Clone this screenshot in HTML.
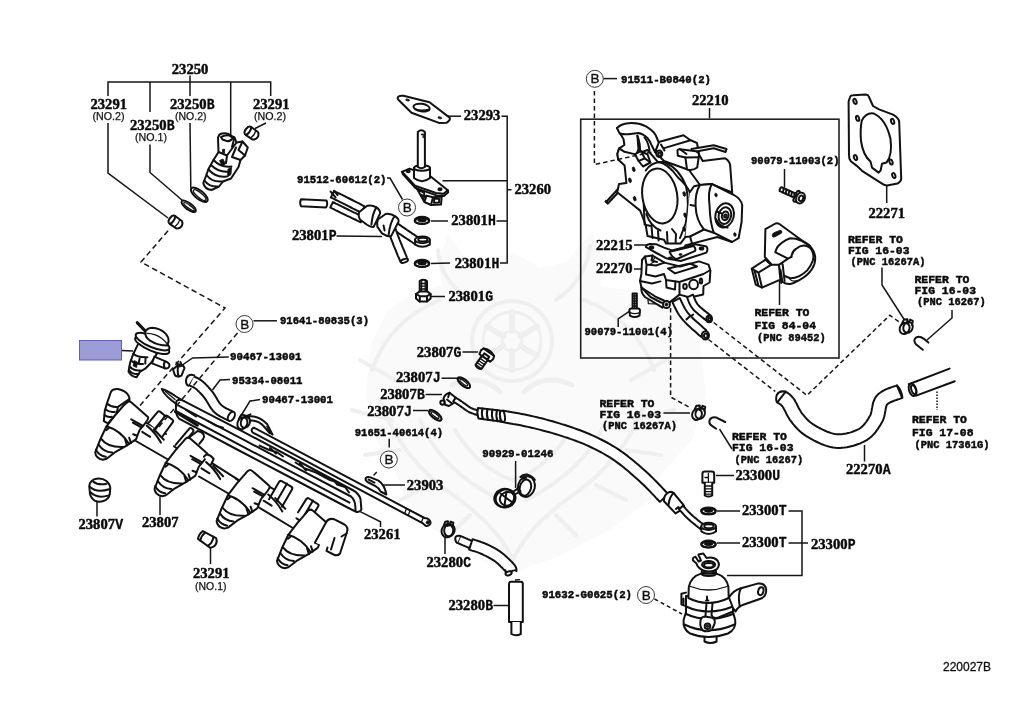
<!DOCTYPE html>
<html><head><meta charset="utf-8"><title>220027B</title>
<style>
html,body{margin:0;padding:0;background:#fff;}
svg{display:block;}
.n{font-family:"Liberation Serif",serif;font-weight:bold;font-size:13.9px;fill:#0a0a0a;stroke:#0a0a0a;stroke-width:0.45;}
.sf{font-family:"Liberation Mono",monospace;font-weight:bold;font-size:14.2px;fill:#0a0a0a;stroke:#0a0a0a;stroke-width:0.3;}
.m{font-family:"Liberation Mono",monospace;font-weight:bold;font-size:11.4px;fill:#0a0a0a;stroke:#0a0a0a;stroke-width:0.5;}
.r{font-family:"Liberation Mono",monospace;font-weight:bold;font-size:10.2px;fill:#0a0a0a;stroke:#0a0a0a;stroke-width:0.45;}
.s{font-family:"Liberation Sans",sans-serif;font-size:11px;fill:#111;stroke:#111;stroke-width:0.25;}
.s2{font-family:"Liberation Sans",sans-serif;font-size:12px;fill:#111;stroke:#111;stroke-width:0.3;}
.bb{font-family:"Liberation Sans",sans-serif;font-size:13.5px;fill:#111;stroke:#111;stroke-width:0.35;}
.cb{fill:#fff;stroke:#222;stroke-width:0.9;}
.l{fill:none;stroke:#151515;stroke-width:1.5;}
.box{fill:none;stroke:#222;stroke-width:1.6;}
.p{fill:none;stroke:#111;stroke-width:2.0;stroke-linejoin:round;stroke-linecap:round;}
.pf{fill:#fff;stroke:#111;stroke-width:2.0;stroke-linejoin:round;stroke-linecap:round;}
.pt{fill:none;stroke:#111;stroke-width:1.3;stroke-linejoin:round;stroke-linecap:round;}
.pk{fill:#111;stroke:#111;stroke-width:0.8;stroke-linejoin:round;}
.wm{fill:none;stroke:#f5f5f5;stroke-width:4;stroke-linecap:round;stroke-linejoin:round;}
</style></head><body>
<svg style="will-change:transform" width="1024" height="707" viewBox="0 0 1024 707">
<rect width="1024" height="707" fill="#fff"/>
<!-- watermark.svg -->
<g>
<path d="M513 252 L540 268 L566 262 L592 232 L604 262 L600 286 L640 292 L676 310 L700 345 L706 395 L692 440 L660 476 L650 500 L610 530 L560 556 L513 572 L474 556 L435 530 L405 500 L395 470 L376 440 L366 395 L371 345 L388 310 L415 292 L442 286 L438 262 L448 236 L470 262 L492 268 Z" fill="#fafafa"/>
<g fill="none" stroke="#efefef" stroke-linecap="round" stroke-linejoin="round">
<circle cx="512" cy="341" r="40" stroke-width="4"/>
<circle cx="512" cy="341" r="29" stroke-width="3"/>
<circle cx="512" cy="341" r="10" stroke-width="3"/>
<path d="M512 312 L512 331 M512 351 L512 370 M487 326.5 L503.4 336 M520.6 346 L537 355.5 M487 355.5 L503.4 346 M520.6 336 L537 326.5" stroke-width="6"/>
<path d="M470 300 Q440 280 438 250 M556 300 Q586 280 590 246 M440 300 Q390 320 372 370 M584 300 Q636 320 654 370" stroke-width="4"/>
<path d="M452 385 Q480 372 500 392 M572 385 Q544 372 524 392" stroke-width="5"/>
<path d="M380 400 Q400 460 460 500 Q500 530 513 560 Q526 530 566 500 Q626 460 646 400" stroke-width="4"/>
<path d="M420 420 Q440 470 500 500 M606 420 Q586 470 526 500 M455 430 Q480 470 513 480 Q546 470 571 430" stroke-width="4"/>
<path d="M360 360 L395 380 M352 410 L392 420 M365 455 L400 450 M666 360 L631 380 M674 410 L634 420 M661 455 L626 450 M400 500 L430 485 M626 500 L596 485 M450 535 L470 515 M576 535 L556 515" stroke-width="4"/>
</g>
</g>

<text x="171.80" y="73.60" class="n" textLength="36.50" lengthAdjust="spacingAndGlyphs">23250</text>
<text x="90.50" y="109.20" class="n" textLength="36.50" lengthAdjust="spacingAndGlyphs">23291</text>
<text x="92.50" y="120.00" class="s" textLength="32.00" lengthAdjust="spacingAndGlyphs">(NO.2)</text>
<text x="170.00" y="109.20" class="n" textLength="36.50" lengthAdjust="spacingAndGlyphs">23250</text><text x="206.80" y="109.20" class="sf" textLength="7.9" lengthAdjust="spacingAndGlyphs">B</text>
<text x="175.00" y="120.00" class="s" textLength="31.50" lengthAdjust="spacingAndGlyphs">(NO.2)</text>
<text x="130.00" y="130.40" class="n" textLength="36.50" lengthAdjust="spacingAndGlyphs">23250</text><text x="166.80" y="130.40" class="sf" textLength="7.9" lengthAdjust="spacingAndGlyphs">B</text>
<text x="135.00" y="141.00" class="s" textLength="32.00" lengthAdjust="spacingAndGlyphs">(NO.1)</text>
<text x="253.00" y="109.20" class="n" textLength="36.50" lengthAdjust="spacingAndGlyphs">23291</text>
<text x="254.00" y="120.00" class="s" textLength="32.00" lengthAdjust="spacingAndGlyphs">(NO.2)</text>
<path d="M108.00 96.00 L108.00 82.00 L270.70 82.00 L270.70 96.00" class="l"/>
<path d="M190.00 75.50 L190.00 96.00" class="l"/>
<path d="M150.00 82.00 L150.00 112.00" class="l"/>
<path d="M230.70 82.00 L230.70 135.00" class="l"/>
<path d="M108.00 123.00 L108.00 173.00 L168.00 218.00" class="l"/>
<path d="M150.00 144.50 L150.00 172.50 L182.50 200.50" class="l"/>
<path d="M190.00 123.00 L190.80 188.00" class="l"/>
<path d="M266.00 123.00 L255.00 128.50" class="l"/>
<text x="463.80" y="120.40" class="n" textLength="36.50" lengthAdjust="spacingAndGlyphs">23293</text>
<path d="M447.50 116.20 L461.00 116.20" class="l"/>
<path d="M501.50 116.20 L507.20 116.20 L507.20 263.00 L500.00 263.00" class="l"/>
<path d="M442.50 180.80 L507.20 180.80" class="l"/>
<path d="M496.50 221.00 L507.20 221.00" class="l"/>
<path d="M507.20 189.70 L511.50 189.70" class="l"/>
<text x="514.50" y="194.40" class="n" textLength="36.50" lengthAdjust="spacingAndGlyphs">23260</text>
<text x="297.00" y="183.40" class="m" textLength="89.50" lengthAdjust="spacingAndGlyphs">91512-60612(2)</text>
<path d="M387.00 178.00 L390.00 178.00 L402.50 199.50" class="l"/>
<circle cx="407.00" cy="207.50" r="8.50" class="cb"/>
<text x="407.30" y="212.10" class="bb" text-anchor="middle">B</text>
<text x="292.00" y="240.40" class="n" textLength="36.50" lengthAdjust="spacingAndGlyphs">23801</text><text x="328.80" y="240.40" class="sf" textLength="7.9" lengthAdjust="spacingAndGlyphs">P</text>
<path d="M336.50 236.00 L382.00 236.50" class="l"/>
<text x="451.30" y="224.90" class="n" textLength="36.50" lengthAdjust="spacingAndGlyphs">23801</text><text x="488.10" y="224.90" class="sf" textLength="7.9" lengthAdjust="spacingAndGlyphs">H</text>
<path d="M431.00 221.00 L448.00 221.00" class="l"/>
<text x="454.70" y="267.90" class="n" textLength="36.50" lengthAdjust="spacingAndGlyphs">23801</text><text x="491.50" y="267.90" class="sf" textLength="7.9" lengthAdjust="spacingAndGlyphs">H</text>
<path d="M431.00 263.50 L450.00 263.00" class="l"/>
<text x="448.50" y="301.20" class="n" textLength="36.50" lengthAdjust="spacingAndGlyphs">23801</text><text x="485.30" y="301.20" class="sf" textLength="7.9" lengthAdjust="spacingAndGlyphs">G</text>
<path d="M430.00 296.50 L445.00 296.50" class="l"/>
<circle cx="244.50" cy="324.00" r="8.50" class="cb"/>
<text x="244.80" y="328.60" class="bb" text-anchor="middle">B</text>
<path d="M253.50 320.80 L277.00 320.80" class="l"/>
<text x="280.00" y="324.40" class="m" textLength="89.00" lengthAdjust="spacingAndGlyphs">91641-80835(3)</text>
<text x="230.00" y="360.40" class="m" textLength="71.50" lengthAdjust="spacingAndGlyphs">90467-13001</text>
<path d="M228.80 357.00 L192.50 358.00 L178.80 367.50" class="l"/>
<text x="232.00" y="383.90" class="m" textLength="70.50" lengthAdjust="spacingAndGlyphs">95334-08011</text>
<path d="M230.00 379.60 L220.00 380.00 L212.50 390.00" class="l"/>
<text x="262.00" y="403.40" class="m" textLength="71.00" lengthAdjust="spacingAndGlyphs">90467-13001</text>
<path d="M260.00 399.60 L250.00 401.00 L239.00 419.00" class="l"/>
<text x="416.80" y="356.60" class="n" textLength="36.50" lengthAdjust="spacingAndGlyphs">23807</text><text x="453.60" y="356.60" class="sf" textLength="7.9" lengthAdjust="spacingAndGlyphs">G</text>
<path d="M462.50 352.00 L478.00 352.00" class="l"/>
<text x="396.00" y="382.20" class="n" textLength="36.50" lengthAdjust="spacingAndGlyphs">23807</text><text x="432.80" y="382.20" class="sf" textLength="7.9" lengthAdjust="spacingAndGlyphs">J</text>
<path d="M441.50 378.20 L457.00 378.20" class="l"/>
<text x="380.20" y="399.20" class="n" textLength="36.50" lengthAdjust="spacingAndGlyphs">23807</text><text x="417.00" y="399.20" class="sf" textLength="7.9" lengthAdjust="spacingAndGlyphs">B</text>
<path d="M425.50 394.50 L442.00 394.50" class="l"/>
<text x="367.20" y="415.90" class="n" textLength="36.50" lengthAdjust="spacingAndGlyphs">23807</text><text x="404.00" y="415.90" class="sf" textLength="7.9" lengthAdjust="spacingAndGlyphs">J</text>
<path d="M413.00 410.50 L428.00 410.50" class="l"/>
<text x="354.80" y="435.90" class="m" textLength="88.20" lengthAdjust="spacingAndGlyphs">91651-40614(4)</text>
<path d="M389.20 438.80 L389.20 447.50" class="l"/>
<circle cx="388.80" cy="459.50" r="8.50" class="cb"/>
<text x="389.10" y="464.10" class="bb" text-anchor="middle">B</text>
<path d="M376.80 472.00 L373.50 475.50" class="l"/>
<text x="406.80" y="489.90" class="n" textLength="36.50" lengthAdjust="spacingAndGlyphs">23903</text>
<path d="M382.20 485.00 L405.00 485.00" class="l"/>
<text x="482.20" y="457.40" class="m" textLength="71.30" lengthAdjust="spacingAndGlyphs">90929-01246</text>
<text x="78.50" y="529.40" class="n" textLength="36.50" lengthAdjust="spacingAndGlyphs">23807</text><text x="115.30" y="529.40" class="sf" textLength="7.9" lengthAdjust="spacingAndGlyphs">V</text>
<path d="M97.00 499.00 L97.00 516.50" class="l"/>
<text x="142.00" y="527.40" class="n" textLength="36.50" lengthAdjust="spacingAndGlyphs">23807</text>
<path d="M160.00 496.50 L160.00 515.00" class="l"/>
<text x="193.00" y="577.90" class="n" textLength="36.50" lengthAdjust="spacingAndGlyphs">23291</text>
<text x="195.00" y="589.50" class="s" textLength="31.50" lengthAdjust="spacingAndGlyphs">(NO.1)</text>
<path d="M210.50 548.00 L210.50 564.00" class="l"/>
<text x="364.00" y="539.40" class="n" textLength="36.50" lengthAdjust="spacingAndGlyphs">23261</text>
<path d="M360.20 511.70 L380.50 521.80 L380.50 527.00" class="l"/>
<text x="426.50" y="567.40" class="n" textLength="36.50" lengthAdjust="spacingAndGlyphs">23280</text><text x="463.30" y="567.40" class="sf" textLength="7.9" lengthAdjust="spacingAndGlyphs">C</text>
<path d="M445.00 534.00 L445.00 554.00" class="l"/>
<text x="448.50" y="610.40" class="n" textLength="36.50" lengthAdjust="spacingAndGlyphs">23280</text><text x="485.30" y="610.40" class="sf" textLength="7.9" lengthAdjust="spacingAndGlyphs">B</text>
<path d="M493.50 605.50 L510.00 605.50" class="l"/>
<circle cx="594.80" cy="78.80" r="8.50" class="cb"/>
<text x="595.10" y="83.40" class="bb" text-anchor="middle">B</text>
<path d="M603.50 78.60 L617.00 78.60" class="l"/>
<text x="621.00" y="82.90" class="m" textLength="90.00" lengthAdjust="spacingAndGlyphs">91511-B0840(2)</text>
<text x="692.00" y="105.40" class="n" textLength="36.50" lengthAdjust="spacingAndGlyphs">22210</text>
<path d="M709.50 108.00 L709.50 118.50" class="l"/>
<rect x="580.7" y="119.2" width="258.3" height="238.8" class="box"/>
<text x="751.00" y="164.40" class="m" textLength="88.50" lengthAdjust="spacingAndGlyphs">90079-11003(2)</text>
<path d="M784.50 169.00 L784.50 187.50" class="l"/>
<text x="596.00" y="249.90" class="n" textLength="36.50" lengthAdjust="spacingAndGlyphs">22215</text>
<path d="M634.00 245.00 L647.00 245.00" class="l"/>
<text x="596.00" y="273.40" class="n" textLength="36.50" lengthAdjust="spacingAndGlyphs">22270</text>
<path d="M634.00 269.00 L647.00 269.00" class="l"/>
<text x="584.50" y="335.40" class="m" textLength="88.50" lengthAdjust="spacingAndGlyphs">90079-11001(4)</text>
<path d="M618.20 327.00 L618.20 318.80 L630.00 310.80" class="l"/>
<text x="868.50" y="217.90" class="n" textLength="36.50" lengthAdjust="spacingAndGlyphs">22271</text>
<path d="M886.70 184.50 L886.70 203.00" class="l"/>
<text x="848.00" y="242.90" class="r" textLength="55.00" lengthAdjust="spacingAndGlyphs">REFER TO</text>
<text x="848.00" y="253.90" class="r" textLength="61.50" lengthAdjust="spacingAndGlyphs">FIG 16-03</text>
<text x="850.50" y="264.90" class="r" textLength="75.00" lengthAdjust="spacingAndGlyphs">(PNC 16267A)</text>
<path d="M882.00 267.50 L882.00 285.00 L904.50 320.00" class="l"/>
<text x="914.50" y="282.90" class="r" textLength="55.00" lengthAdjust="spacingAndGlyphs">REFER TO</text>
<text x="914.50" y="293.90" class="r" textLength="61.50" lengthAdjust="spacingAndGlyphs">FIG 16-03</text>
<text x="917.00" y="305.40" class="r" textLength="68.75" lengthAdjust="spacingAndGlyphs">(PNC 16267)</text>
<path d="M952.00 310.00 L952.00 318.00 L927.00 340.00" class="l"/>
<text x="754.50" y="316.40" class="r" textLength="55.00" lengthAdjust="spacingAndGlyphs">REFER TO</text>
<text x="754.50" y="328.90" class="r" textLength="61.50" lengthAdjust="spacingAndGlyphs">FIG 84-04</text>
<text x="757.00" y="341.40" class="r" textLength="68.75" lengthAdjust="spacingAndGlyphs">(PNC 89452)</text>
<path d="M779.50 280.00 L779.50 305.00" class="l"/>
<text x="599.50" y="406.90" class="r" textLength="55.00" lengthAdjust="spacingAndGlyphs">REFER TO</text>
<text x="599.50" y="417.90" class="r" textLength="61.50" lengthAdjust="spacingAndGlyphs">FIG 16-03</text>
<text x="602.00" y="428.90" class="r" textLength="75.00" lengthAdjust="spacingAndGlyphs">(PNC 16267A)</text>
<path d="M663.50 413.00 L690.00 413.00" class="l"/>
<text x="732.00" y="440.40" class="r" textLength="55.00" lengthAdjust="spacingAndGlyphs">REFER TO</text>
<text x="732.00" y="451.40" class="r" textLength="61.50" lengthAdjust="spacingAndGlyphs">FIG 16-03</text>
<text x="734.50" y="463.40" class="r" textLength="68.75" lengthAdjust="spacingAndGlyphs">(PNC 16267)</text>
<path d="M719.50 429.00 L732.00 449.00" class="l"/>
<text x="912.00" y="422.90" class="r" textLength="55.00" lengthAdjust="spacingAndGlyphs">REFER TO</text>
<text x="912.00" y="435.90" class="r" textLength="61.50" lengthAdjust="spacingAndGlyphs">FIG 17-08</text>
<text x="914.50" y="448.40" class="r" textLength="75.00" lengthAdjust="spacingAndGlyphs">(PNC 17361G)</text>
<path d="M937.00 391.50 L937.00 410.00" class="l" stroke-dasharray="1.5 1.5"/>
<text x="735.50" y="480.40" class="n" textLength="36.50" lengthAdjust="spacingAndGlyphs">23300</text><text x="772.30" y="480.40" class="sf" textLength="7.9" lengthAdjust="spacingAndGlyphs">U</text>
<path d="M716.00 475.50 L734.00 475.50" class="l"/>
<text x="742.00" y="515.40" class="n" textLength="36.50" lengthAdjust="spacingAndGlyphs">23300</text><text x="778.80" y="515.40" class="sf" textLength="7.9" lengthAdjust="spacingAndGlyphs">T</text>
<path d="M717.00 511.00 L740.00 511.00" class="l"/>
<text x="742.00" y="547.40" class="n" textLength="36.50" lengthAdjust="spacingAndGlyphs">23300</text><text x="778.80" y="547.40" class="sf" textLength="7.9" lengthAdjust="spacingAndGlyphs">T</text>
<path d="M717.00 543.00 L740.00 543.00" class="l"/>
<path d="M788.50 511.00 L802.00 511.00 L802.00 575.50 L727.00 575.50" class="l"/>
<path d="M788.50 543.00 L808.00 543.00" class="l"/>
<text x="811.00" y="549.40" class="n" textLength="36.50" lengthAdjust="spacingAndGlyphs">23300</text><text x="847.80" y="549.40" class="sf" textLength="7.9" lengthAdjust="spacingAndGlyphs">P</text>
<text x="846.00" y="474.40" class="n" textLength="36.50" lengthAdjust="spacingAndGlyphs">22270</text><text x="882.80" y="474.40" class="sf" textLength="7.9" lengthAdjust="spacingAndGlyphs">A</text>
<path d="M864.50 445.00 L864.50 461.50" class="l"/>
<text x="542.00" y="598.40" class="m" textLength="90.00" lengthAdjust="spacingAndGlyphs">91632-G0625(2)</text>
<circle cx="646.00" cy="595.00" r="8.50" class="cb"/>
<text x="646.30" y="599.60" class="bb" text-anchor="middle">B</text>
<path d="M654.50 599.00 L682.00 614.00" class="l" stroke-dasharray="4 3"/>
<text x="943.00" y="670.50" class="s2" textLength="48.00" lengthAdjust="spacingAndGlyphs">220027B</text>
<rect x="79.5" y="340.5" width="42" height="19.5" fill="#9c9cd6" stroke="#5c5cc4" stroke-width="1"/>
<path d="M122.00 350.50 L133.00 351.00" class="l"/>
<!-- p_01.svg -->
<path d="M218 137.5 L219.5 134.5 Q224 132.2 228.5 134 L234.5 137.5 L236.5 142.5 L242.5 141.5 L247.8 147.5 L245 155.5 L240.5 160 L238.5 167 L231 178.5 L223 181.5 L219 186.5 L211.5 190 Q204.5 189 203.3 183 L206 176 L208.5 169 L213.5 160 L218.5 152 Z" class="pf"/>
<path d="M221 137.2 Q225.5 134.2 229.5 135.6 L233 137.8 Q231 141.3 227.5 141.2 L222.5 139.5 Z" class="p"/>
<path d="M218.5 152 L227 155.5 L236.5 142.5 M227 155.5 L226 163 M234.5 137.5 L232 147 M240.5 160 L232 157 L236 147.5 M242.5 141.5 L238.5 150 L245 155.5" class="p"/>
<path d="M213.5 160 Q221 168 231.5 166.5 M211 165 Q219 173 229.5 171.5 M208.5 169.5 Q216 178 226.5 176.5 M206.5 175 Q212 182.5 222.5 181.5 M204.5 180.5 Q209 187 217.5 186.5" class="p"/>
<path d="M219.5 160.5 L223 159 L225.5 164 L222 166 Z M228 169 L231.5 167.5 L231 174.5 L227.5 177 Z M222.5 149.5 L224.5 149 L224.5 153 L222.5 152.5Z" class="pk"/>
<ellipse cx="199.3" cy="194.8" rx="10.2" ry="4.2" transform="rotate(39.0 199.3 194.8)" class="pf"/>
<ellipse cx="199.6" cy="195.1" rx="7.8" ry="2.3" transform="rotate(39.0 199.6 195.1)" class="pt"/>
<ellipse cx="188.7" cy="206.3" rx="8.6" ry="3.2" transform="rotate(36.0 188.7 206.3)" class="pf"/>
<ellipse cx="189.0" cy="206.6" rx="6.4" ry="1.5" transform="rotate(36.0 189.0 206.6)" class="pt"/>
<g transform="translate(175.6 222.2) rotate(35)">
<path d="M-6.5 -3.2 Q-7.5 0 -6.5 3.2 Q-5.5 5 -3.5 4.8 L4.5 4.6 Q7.2 3 7.2 0 Q7.2 -3 4.5 -4.6 L-3.5 -4.8 Q-5.5 -5 -6.5 -3.2 Z" class="pf"/>
<path d="M-3.6 -4.8 Q-1.4 0 -3.6 4.8" class="p"/>
<path d="M2 -4.5 Q3.6 0 2 4.5" class="pt"/>
</g>
<g transform="translate(251.6 133.2) rotate(35)">
<path d="M-6.5 -3.2 Q-7.5 0 -6.5 3.2 Q-5.5 5 -3.5 4.8 L4.5 4.6 Q7.2 3 7.2 0 Q7.2 -3 4.5 -4.6 L-3.5 -4.8 Q-5.5 -5 -6.5 -3.2 Z" class="pf"/>
<path d="M-3.6 -4.8 Q-1.4 0 -3.6 4.8" class="p"/>
<path d="M2 -4.5 Q3.6 0 2 4.5" class="pt"/>
</g>
<path d="M397.8 97.2 Q399 95.2 403.5 95.8 L429.5 102.3 L449.6 117.6 Q451 120 446.5 122.8 L439 122.9 L411.5 112.8 L398.6 100 Q397.2 98.5 397.8 97.2 Z" class="pf"/>
<ellipse cx="421.6" cy="107.6" rx="8.2" ry="3.8" transform="rotate(8.0 421.6 107.6)" class="pf"/>
<path d="M414.6 108.6 Q420 111.4 428.6 109.4" class="pt"/>
<ellipse cx="407.6" cy="100.0" rx="1.9" ry="0.9" transform="rotate(15.0 407.6 100.0)" class="pk"/>
<ellipse cx="439.8" cy="117.8" rx="1.9" ry="0.9" transform="rotate(15.0 439.8 117.8)" class="pk"/>
<path d="M402 171.8 L409.5 168.6 L430 176 L447.8 190.2 L443.5 193.8 L436 193 L415 185.6 Z" class="pf"/>
<path d="M402 171.8 L402.8 174 L415.5 188 L436.5 195.4 L444 196 L448.2 192.2 L447.8 190.2" class="p"/>
<path d="M416.5 188 L424.4 202 L431 205 L441 204.6 L441.8 195.4 M424.4 202 L426.5 195.6 L433 197.2 L431 205 M433 197.2 L441.6 196.4 M419.5 190.6 L424 192.5 L424.5 197.5" class="p"/>
<path d="M434.2 198.8 L439.4 198.4 L439 202.6 L434 202.8 Z" class="p"/>
<path d="M420.6 194 L423.4 195 L423.6 199 Z" class="pk"/>
<ellipse cx="408.2" cy="171.2" rx="1.5" ry="1.1" transform="rotate(0.0 408.2 171.2)" class="p"/>
<ellipse cx="440.0" cy="189.3" rx="1.6" ry="1.0" transform="rotate(0.0 440.0 189.3)" class="p"/>
<path d="M414 168 L414 178 Q422 184.5 430 178 L430 168 Z" class="pf"/>
<ellipse cx="422.0" cy="168.0" rx="8.0" ry="2.8" transform="rotate(0.0 422.0 168.0)" class="pf"/>
<path d="M417.8 167 L417.8 132 Q421.3 128.6 424.9 132 L424.9 167 Q421.3 169.4 417.8 167 Z" class="pf"/>
<path d="M421.5 134.5 L423.2 134.2 L423.2 137.5" class="pt"/>
<path d="M301 199.2 Q299.3 202.5 301 206.2 L326 207.4 Q328.2 204.5 326.5 200.4 Z" class="pf"/>
<path d="M330.9 197.4 L331.6 197.8 L332.5 198.2 L333.6 198.7 L334.7 199.3 L336.0 200.0 L337.4 200.6 L338.9 201.3 L340.3 202.1 L341.9 202.8 L343.4 203.6 L345.0 204.4 L346.9 205.4 L348.9 206.4 L351.0 207.5 L353.1 208.6 L355.2 209.6 L357.1 210.6 L358.8 211.5 L360.3 212.2 L361.4 212.8 L364.6 206.4 L363.5 205.8 L362.1 205.1 L360.4 204.2 L358.5 203.2 L356.4 202.2 L354.3 201.1 L352.2 200.0 L350.2 199.0 L348.3 198.0 L346.6 197.2 L345.1 196.4 L343.6 195.6 L342.1 194.9 L340.6 194.2 L339.2 193.5 L337.9 192.9 L336.7 192.3 L335.7 191.8 L334.8 191.3 L334.1 191.0 Z" class="pf"/>
<path d="M330.6 191.6 L335.6 197.4 M334.2 190.8 L337.6 195" class="p"/>
<path d="M330.3 207.5 L331.1 207.9 L332.0 208.4 L333.2 208.9 L334.5 209.6 L335.9 210.3 L337.4 211.0 L339.0 211.8 L340.6 212.6 L342.1 213.3 L343.7 214.1 L345.3 214.9 L347.1 215.8 L349.1 216.7 L351.1 217.7 L353.0 218.6 L355.0 219.5 L356.7 220.4 L358.3 221.2 L359.7 221.8 L360.7 222.3 L363.3 216.9 L362.3 216.4 L360.9 215.8 L359.3 215.0 L357.6 214.1 L355.6 213.2 L353.7 212.3 L351.7 211.3 L349.7 210.4 L347.9 209.5 L346.3 208.7 L344.8 208.0 L343.2 207.2 L341.6 206.4 L340.1 205.6 L338.6 204.9 L337.2 204.2 L335.9 203.6 L334.7 203.0 L333.7 202.5 L332.9 202.1 Z" class="pf"/>
<path d="M389.9 227.0 L390.4 227.4 L391.1 227.9 L392.0 228.5 L392.9 229.2 L393.9 229.9 L395.0 230.6 L396.2 231.5 L397.4 232.3 L398.6 233.2 L399.9 234.1 L401.3 235.0 L402.9 236.1 L404.7 237.3 L406.5 238.5 L408.3 239.7 L410.1 240.9 L411.8 242.0 L413.2 243.0 L414.5 243.8 L415.4 244.5 L419.6 238.3 L418.6 237.7 L417.4 236.9 L415.9 235.9 L414.2 234.7 L412.4 233.6 L410.6 232.3 L408.8 231.1 L407.1 230.0 L405.5 228.9 L404.1 227.9 L402.8 227.1 L401.6 226.2 L400.4 225.4 L399.3 224.6 L398.2 223.8 L397.2 223.1 L396.2 222.5 L395.4 221.9 L394.7 221.4 L394.1 221.0 Z" class="pf"/>
<path d="M386.9 227.3 L387.2 228.2 L387.6 229.2 L388.1 230.5 L388.6 232.0 L389.2 233.6 L389.8 235.3 L390.4 237.0 L391.1 238.8 L391.8 240.6 L392.5 242.4 L393.2 244.3 L394.0 246.3 L395.0 248.6 L395.9 250.8 L396.8 253.1 L397.7 255.3 L398.6 257.3 L399.4 259.2 L400.0 260.7 L400.5 261.9 L407.5 258.9 L407.0 257.8 L406.4 256.2 L405.6 254.4 L404.8 252.4 L403.9 250.2 L402.9 247.9 L402.0 245.7 L401.1 243.5 L400.3 241.4 L399.5 239.6 L398.9 237.9 L398.2 236.1 L397.6 234.4 L396.9 232.7 L396.3 231.0 L395.8 229.4 L395.2 228.0 L394.8 226.7 L394.4 225.6 L394.1 224.7 Z" class="pf"/>
<ellipse cx="404.4" cy="260.8" rx="3.7" ry="1.7" transform="rotate(-20.0 404.4 260.8)" class="pf"/>
<path d="M359 212.2 L367.2 205.7 Q372 204.6 376.4 207.4 Q380.4 210 380.1 213.4 L373.7 226.9 Q371 227.6 367 224.8 L359.9 219.5 Q358 215.6 359 212.2 Z" class="pf"/>
<path d="M376.4 207.4 Q372.6 213 371.4 224.6" class="p"/>
<path d="M377.9 219.5 L385.6 214 Q390.6 213.2 395.7 216.6 Q399.2 219 398.5 221.8 L391.1 236.1 Q387 236.6 382 233.3 L377.4 226.9 Q376.6 222.6 377.9 219.5 Z" class="pf"/>
<path d="M394.6 216 Q390 222.6 388.6 235 M383.6 225.6 L384.6 230.6" class="p"/>
<path d="M415 239.8 L415.2 244.6 Q422.4 249 429.8 244.6 L429.8 239.8 Z" class="pf"/>
<ellipse cx="422.4" cy="239.8" rx="7.4" ry="3.4" transform="rotate(0.0 422.4 239.8)" class="pf"/>
<ellipse cx="422.8" cy="239.6" rx="4.6" ry="1.9" transform="rotate(0.0 422.8 239.6)" class="p"/>
<ellipse cx="422.0" cy="220.4" rx="7.4" ry="3.6" transform="rotate(0.0 422.0 220.4)" class="pf"/>
<ellipse cx="422.0" cy="221.0" rx="7.0" ry="3.1" transform="rotate(0.0 422.0 221.0)" class="p"/>
<ellipse cx="422.0" cy="220.3" rx="4.2" ry="1.7" transform="rotate(0.0 422.0 220.3)" class="pk"/>
<ellipse cx="422.4" cy="220.3" rx="2.8" ry="0.9" transform="rotate(0.0 422.4 220.3)" class="pf"/>
<ellipse cx="422.0" cy="263.4" rx="7.4" ry="3.6" transform="rotate(0.0 422.0 263.4)" class="pf"/>
<ellipse cx="422.0" cy="264.0" rx="7.0" ry="3.1" transform="rotate(0.0 422.0 264.0)" class="p"/>
<ellipse cx="422.0" cy="263.3" rx="4.2" ry="1.7" transform="rotate(0.0 422.0 263.3)" class="pk"/>
<ellipse cx="422.4" cy="263.3" rx="2.8" ry="0.9" transform="rotate(0.0 422.4 263.3)" class="pf"/>
<path d="M419.7 292 L419.7 281 Q423.3 278.6 427 281 L427 292 Z" class="pf"/>
<path d="M419.7 283.5 L427 283.5 M419.7 286.2 L427 286.2 M419.7 289 L427 289 M421.6 280 L421.6 292 M425.2 280 L425.2 292" class="pt"/>
<path d="M416 294 L419.5 291.6 L427.5 291.6 L430.6 294 L430.6 298.6 L427 301.6 L419.5 301.6 L416 298.6 Z" class="pf"/>
<path d="M416 294 L419.8 296.2 L427 296.2 L430.6 294 M419.8 296.2 L419.8 301.4 M427 296.2 L427 301.4" class="p"/>
<path d="M137.2 322.6 L145.6 331.4" class="p" style="stroke-width:3"/>
<path d="M138.7 342.9 L133.4 353.7 L130.2 362.3 L128.5 371.6 Q131 376.6 136.6 377.3 L139.8 371.9 L145.2 368.7 L151.6 362.3 L157 353.5 Z" class="pf"/>
<path d="M133.4 353.7 Q137.6 357.6 147.4 357.2 M131 360.4 Q135 364.8 143 364 M129.6 366.4 Q133 371 140.6 370.4 M129 370 Q132 374.6 138.6 374 M139.6 358.6 L138.6 364 M145.6 358 L145.2 363.6" class="p"/>
<path d="M134 360.5 L137.4 362 L136.6 367.5 L133.2 366 Z" class="pk"/>
<path d="M154.4 356.6 L166.7 361.8 Q170 363.6 169.4 366 Q168.4 368.8 165.6 368.6 L152 363.4 Z" class="pf"/>
<path d="M165 361.4 Q162.8 364.6 164.8 368.2" class="p"/>
<ellipse cx="152.2" cy="345.2" rx="18.4" ry="5.6" transform="rotate(23.0 152.2 345.2)" class="pf"/>
<ellipse cx="152.6" cy="341.6" rx="18.2" ry="5.6" transform="rotate(23.0 152.6 341.6)" class="pf"/>
<path d="M145.4 331.6 Q147 328.2 152 327.8 Q160 328.2 165.6 333.6 Q168.8 337 168.6 341.4 L167.2 345.6 Q158 345.6 150 340.6 Q144.4 336.6 145.4 331.6 Z" class="pf"/>
<path d="M147 333.4 Q155 333.6 161.6 338.2 Q166 341.4 167.4 344.6" class="pt"/>
<!-- p_02.svg -->
<path d="M253.8 427.6 L424.5 518 L427.5 518.6 Q431 520.4 430.4 523.6 Q429 526.6 425.6 525.8 L423 523.4 L252.8 432.6 Q250 429.6 253.8 427.6 Z" class="pf"/>
<path d="M423.4 517.4 L421.2 522.4 M410 510.4 L408.6 514.6 M406.4 508.6 L405 512.6" class="pt"/>
<ellipse cx="427.8" cy="522.4" rx="1.6" ry="1.6" transform="rotate(0.0 427.8 522.4)" class="pk"/>
<path d="M365.8 478 Q367.5 476.4 370.5 477.4 L378.5 480.6 Q384.5 484.6 386.4 494.5 L380.5 491.5 Q379.5 488.5 375.5 486.2 L367.5 482 Q364.8 480 365.8 478 Z" class="pf"/>
<path d="M368.6 479.6 L374.5 482.6" class="p"/>
<path d="M161.8 389 Q166 389.6 176 396.5 L186 402.5 L180.5 407.5 L170 399 Q163.5 393.5 161.8 389 Z" class="pf"/>
<path d="M165.5 391.5 L175 399.5" class="pt"/>
<path d="M176.5 401 Q179 398.5 183.5 400.8 L243 431.6 L300 462 L352.5 490 Q358.6 493 360.5 499 L361.4 509.5 Q359.5 513 355.5 511.5 L348.5 508 L300 482.5 L240 451 L179 418.6 Q174.5 414.5 176.5 401 Z" class="pf"/>
<path d="M178.6 405.6 L243 439.4 L300 469.6 L351 496.5 Q354.6 499.6 355.2 505 L355.6 511 M176.6 411.5 L240 445.2 L300 476.4 L349.5 502.6" class="p"/>
<path d="M259.5 445.6 L268 449.5 L277 452.2 L283 456.5 M270 448 L276 453.6 M295.5 462.5 L305 468.5 L316 472.5 L330 480 L338 482.5 L343 486.5 M300 463.5 L306 470.5 M333 479.5 L337 484.5 L345 487 L349 492.5" class="p"/>
<path d="M208 421 L216 425.6 L223 427.6 M186 410 L196 416.5" class="p"/>
<path d="M135 440.5 L168 459.5 M146 422.5 L166 434 M199 476.5 L231 495 M211.6 462.8 L238 479.7 M256.5 506 L292 527.5 M269.5 486.8 L277 491" class="p"/>
<g transform="translate(151.8 425.6) rotate(-50.0)"><path d="M0 -4.3 L14.0 -4.3 Q16.0 -4.3 16.0 -2.3 L16.0 2.3 Q16.0 4.3 14.0 4.3 L0 4.3" class="pf"/></g>
<g transform="translate(158.4 433.6) rotate(-54.0)"><path d="M0 -4.9 L17.5 -4.9 Q19.5 -4.9 19.5 -2.9 L19.5 2.9 Q19.5 4.9 17.5 4.9 L0 4.9" class="pf"/></g>
<g transform="translate(177.5 446.5) rotate(-50.0)"><path d="M0 -2.5 L21.0 -2.5 Q23.0 -2.5 23.0 -0.5 L23.0 0.5 Q23.0 2.5 21.0 2.5 L0 2.5" class="pf"/></g>
<path d="M186 442 L190.4 436.5 L197.6 431 Q201.6 431.4 203.6 434.4 Q204.6 437 203.2 439 L199.3 443.8" class="pf"/>
<path d="M175.4 411.6 L197.4 425.2" class="p" style="stroke-width:3"/>
<g transform="translate(275.5 503.0) rotate(-60.0)"><path d="M0 -7.5 L20.0 -7.5 Q22.0 -7.5 22.0 -5.5 L22.0 5.5 Q22.0 7.5 20.0 7.5 L0 7.5" class="pf"/></g>
<path d="M276.6 501.6 L287 483.6" class="p"/>
<g transform="translate(304.0 516.0) rotate(-58.0)"><path d="M0 -7.0 L15.5 -7.0 Q17.5 -7.0 17.5 -5.0 L17.5 5.0 Q17.5 7.0 15.5 7.0 L0 7.0" class="pf"/></g>
<path d="M304.8 514.6 L313 500.6" class="p"/>
<g transform="translate(95.2 452.3)">
<path d="M0 0 Q0.6 6 7.7 7.4 L11.4 6.4 L20.5 -0.5 L31.8 -6.9 L40.3 -12.6 Q41.6 -14 42 -16.5 L44.5 -22.4 Q53.8 -32.6 53 -35 Q48 -39.5 36 -50 Q33.4 -52.4 31 -50 L20.5 -38 L11.3 -26 L4.9 -12.5 Z" class="pf"/>
<path d="M0.7 -2.6 Q4 3.5 10.6 4.5 M3.5 -7.6 Q8 -0.5 16.9 0.2 M6.3 -13.2 Q12 -5 27.5 -5.4 M11.3 -26 Q25 -22 33.4 -9" class="p"/>
<path d="M31.8 -6.9 L30 -12.6 M35.8 -9.2 L34 -14.6 M22.4 -40.4 L19.4 -42.6 M42 -16.5 L38 -18 M13.4 -24 L11 -22" class="p"/>
<path d="M36 -33 L47.3 -26.7 M37.6 -29.6 L46 -25 M51.6 -26.7 Q60 -20 65.7 -9.7 M58.7 -23.1 L68.6 -12.5 M47 -20.5 L55 -15.5" class="p"/>
<path d="M12.7 -29 L8.6 -31.2 L9.6 -41.5 L11.7 -48.7 L15.4 -59.6 Q16.6 -63.4 22.7 -63.2 Q30.4 -61.6 33.2 -56.9 Q35 -54 34.2 -51.7 L29.1 -47.6 Z" class="pf"/>
<path d="M11.7 -48.7 Q16.5 -44.4 22.8 -45.4 L33.8 -53 M10.2 -43 Q14.4 -39.4 19.6 -40.4 M9.4 -37.4 Q12.4 -34.6 16.6 -35.6 M22.8 -45.4 L21.5 -39.5" class="p"/>
</g>
<g transform="translate(154.5 488.8)">
<path d="M0 0 Q0.6 6 7.7 7.4 L11.4 6.4 L20.5 -0.5 L31.8 -6.9 L40.3 -12.6 Q41.6 -14 42 -16.5 L44.5 -22.4 Q53.8 -32.6 53 -35 Q48 -39.5 36 -50 Q33.4 -52.4 31 -50 L20.5 -38 L11.3 -26 L4.9 -12.5 Z" class="pf"/>
<path d="M0.7 -2.6 Q4 3.5 10.6 4.5 M3.5 -7.6 Q8 -0.5 16.9 0.2 M6.3 -13.2 Q12 -5 27.5 -5.4 M11.3 -26 Q25 -22 33.4 -9" class="p"/>
<path d="M31.8 -6.9 L30 -12.6 M35.8 -9.2 L34 -14.6 M22.4 -40.4 L19.4 -42.6 M42 -16.5 L38 -18 M13.4 -24 L11 -22" class="p"/>
<path d="M36 -33 L47.3 -26.7 M37.6 -29.6 L46 -25 M51.6 -26.7 Q60 -20 65.7 -9.7 M58.7 -23.1 L68.6 -12.5 M47 -20.5 L55 -15.5" class="p"/>
<path d="M49.4 -32 L52 -34.6 Q56.6 -33.6 59.2 -29.8 L56.4 -24.2" class="pf"/>
</g>
<g transform="translate(216.6 521.2)">
<path d="M0 0 Q0.6 6 7.7 7.4 L11.4 6.4 L20.5 -0.5 L31.8 -6.9 L40.3 -12.6 Q41.6 -14 42 -16.5 L44.5 -22.4 Q53.8 -32.6 53 -35 Q48 -39.5 36 -50 Q33.4 -52.4 31 -50 L20.5 -38 L11.3 -26 L4.9 -12.5 Z" class="pf"/>
<path d="M0.7 -2.6 Q4 3.5 10.6 4.5 M3.5 -7.6 Q8 -0.5 16.9 0.2 M6.3 -13.2 Q12 -5 27.5 -5.4 M11.3 -26 Q25 -22 33.4 -9" class="p"/>
<path d="M31.8 -6.9 L30 -12.6 M35.8 -9.2 L34 -14.6 M22.4 -40.4 L19.4 -42.6 M42 -16.5 L38 -18 M13.4 -24 L11 -22" class="p"/>
<path d="M36 -33 L47.3 -26.7 M37.6 -29.6 L46 -25 M51.6 -26.7 Q60 -20 65.7 -9.7 M58.7 -23.1 L68.6 -12.5 M47 -20.5 L55 -15.5" class="p"/>
</g>
<g transform="translate(277.0 560.8)">
<path d="M0 0 Q0.6 6 7.7 7.4 L11.4 6.4 L20.5 -0.5 L31.8 -6.9 L40.3 -12.6 Q41.6 -14 42 -16.5 L44.5 -22.4 Q53.8 -32.6 53 -35 Q48 -39.5 36 -50 Q33.4 -52.4 31 -50 L20.5 -38 L11.3 -26 L4.9 -12.5 Z" class="pf"/>
<path d="M0.7 -2.6 Q4 3.5 10.6 4.5 M3.5 -7.6 Q8 -0.5 16.9 0.2 M6.3 -13.2 Q12 -5 27.5 -5.4 M11.3 -26 Q25 -22 33.4 -9" class="p"/>
<path d="M31.8 -6.9 L30 -12.6 M35.8 -9.2 L34 -14.6 M22.4 -40.4 L19.4 -42.6 M42 -16.5 L38 -18 M13.4 -24 L11 -22" class="p"/>
</g>
<path d="M315 542.5 L326 522.5 Q328.5 517.8 334 519.2 L344.5 524.5 Q348.6 527.4 347 532 L340 553.5 Q337.5 556.5 333.5 554.5 L326.5 550.8 L327.5 547.5" class="pf"/>
<path d="M334.5 538 L331 549.5 M341.5 536.5 L346.5 533.5" class="p"/>
<g transform="translate(207.6 539.5) rotate(32)">
<path d="M-8.5 -4.6 Q-10.4 0 -8.5 4.6 L6.5 5.6 Q9.6 3.5 9.6 0 Q9.6 -3.5 6.5 -5.6 Z" class="pf"/>
<path d="M-5.6 -4.7 Q-7.4 0 -5.6 4.8 M3.5 -5.4 Q6 0 3.5 5.4" class="p"/>
</g>
<path d="M89.6 489.8 q-1.6 -7.6 4.4 -10.4 q7 -2.4 12.4 1.6 q5 4.4 3.6 9.6 q0.4 6.4 -4.4 9.6 q-5.4 3 -11 0.4 q-5 -3 -5 -10.8 Z" class="pf"/>
<path d="M89.6 486.8 q7 6.4 19.6 2.4 M90.6 492.2 q5.6 6.6 17.6 3.4 M93.2 481.6 q5 4 13.4 2.2" class="p"/>
<path d="M173 369.5 L178.5 364.5 Q183 364 184.5 368 L181.5 375.6 Q178 377.6 175 375.4 Z" class="pf"/>
<path d="M178.5 364.5 Q176.8 370 178.6 376.6 M176.5 362.6 L180 366.5 M180.5 362 L182 366" class="p"/>
<path d="M188.8 385.1 L189.3 385.4 L190.0 385.7 L190.8 386.0 L191.5 386.4 L192.3 386.7 L193.1 387.1 L193.9 387.5 L194.7 388.0 L195.4 388.5 L196.1 389.0 L196.8 389.6 L197.6 390.4 L198.5 391.2 L199.3 392.1 L200.2 393.0 L201.2 394.0 L202.1 395.0 L203.0 396.1 L203.9 397.2 L204.7 398.2 L205.5 399.3 L206.3 400.4 L207.0 401.7 L207.9 403.1 L208.7 404.6 L209.6 406.1 L210.6 407.6 L211.7 409.2 L212.9 410.7 L214.2 412.1 L215.7 413.4 L217.3 414.6 L218.9 415.6 L220.5 416.6 L222.1 417.4 L223.6 418.2 L224.9 418.8 L226.1 419.4 L226.9 419.8 L227.6 420.2 L232.4 411.4 L231.6 411.0 L230.5 410.4 L229.3 409.8 L228.1 409.2 L226.7 408.6 L225.4 407.8 L224.2 407.1 L223.0 406.3 L222.0 405.6 L221.2 404.9 L220.5 404.1 L219.7 403.2 L218.9 402.1 L218.1 400.8 L217.3 399.5 L216.5 398.0 L215.6 396.6 L214.7 395.1 L213.7 393.6 L212.7 392.2 L211.6 390.9 L210.6 389.7 L209.6 388.5 L208.6 387.3 L207.6 386.2 L206.5 385.1 L205.5 384.1 L204.4 383.1 L203.4 382.1 L202.3 381.2 L201.2 380.3 L200.0 379.5 L198.9 378.9 L197.7 378.2 L196.7 377.7 L195.7 377.3 L194.9 376.9 L194.1 376.6 L193.6 376.3 L193.2 376.1 Z" class="pf"/>
<path d="M194.4 375.4 Q188.6 373.4 186.4 378.4 Q185 383.6 188.2 385.6" class="pf"/>
<ellipse cx="231.4" cy="416.4" rx="3.0" ry="5.0" transform="rotate(28.0 231.4 416.4)" class="pf"/>
<ellipse cx="242.4" cy="423.2" rx="4.8" ry="6.2" transform="rotate(25.0 242.4 423.2)" class="pf"/>
<ellipse cx="245.4" cy="422.2" rx="4.4" ry="5.8" transform="rotate(25.0 245.4 422.2)" class="p"/>
<path d="M239 418.6 L241.5 414.6 L247 416 L250.5 414.4 M244 415 L249 418.5" class="p"/>
<path d="M247 416.5 Q258 414.5 267 424 L272.5 434.5 M250 420.5 Q258.6 420 264 426.5 L269.6 433.2" class="p"/>
<path d="M266.6 426 L272.8 434.8 L269.4 433.4 Z" class="pk"/>
<!-- p_03.svg -->
<g transform="translate(486.5 355.5) rotate(35)">
<path d="M-6.5 -4 L6.5 -4 L7.5 -1 L6.5 3 L-6.5 3 L-7.5 -1 Z" class="pf"/>
<path d="M-6.5 -4 Q0 -7.5 6.5 -4 M-3 3 L-3 -0.5 L3 -0.5 L3 3" class="p"/>
<path d="M-3.6 3 L-3.6 14 Q0 16.5 3.6 14 L3.6 3 Z" class="pf"/>
<path d="M-3.6 6 L3.6 6 M-3.6 8.6 L3.6 8.6 M-3.6 11.2 L3.6 11.2 M-3.6 13.6 L3.6 13.6" class="pt"/>
</g>
<ellipse cx="463.8" cy="382.6" rx="7.6" ry="3.2" transform="rotate(38.0 463.8 382.6)" class="pf"/>
<ellipse cx="463.8" cy="382.6" rx="4.7" ry="1.5" transform="rotate(38.0 463.8 382.6)" class="pt"/>
<ellipse cx="464.2" cy="383.2" rx="7.2" ry="3.0" transform="rotate(38.0 464.2 383.2)" class="pt"/>
<ellipse cx="435.2" cy="415.2" rx="7.6" ry="3.2" transform="rotate(38.0 435.2 415.2)" class="pf"/>
<ellipse cx="435.2" cy="415.2" rx="4.7" ry="1.5" transform="rotate(38.0 435.2 415.2)" class="pt"/>
<ellipse cx="435.6" cy="415.8" rx="7.2" ry="3.0" transform="rotate(38.0 435.6 415.8)" class="pt"/>
<path d="M443.5 398.5 Q445 394 449.5 392.8 L455.5 397.5 L454.6 402.5 L449 406 L445 404.8 L444.5 401 Z" class="pf"/>
<ellipse cx="442.4" cy="402.6" rx="2.1" ry="2.1" transform="rotate(0.0 442.4 402.6)" class="pf"/>
<path d="M447 399.5 L452 403.5 M449.5 392.8 L448.2 397.2" class="p"/>
<path d="M453.2 401.4 L453.7 401.7 L454.2 402.1 L454.9 402.5 L455.7 403.0 L456.5 403.6 L457.3 404.1 L458.2 404.7 L459.1 405.3 L459.9 405.9 L460.7 406.4 L461.4 406.9 L462.2 407.5 L463.0 408.0 L463.8 408.6 L464.6 409.2 L465.4 409.8 L466.3 410.4 L467.2 411.0 L468.0 411.5 L468.9 412.0 L469.9 412.5 L470.9 412.9 L471.9 413.3 L472.9 413.6 L473.8 413.9 L474.7 414.2 L475.5 414.5 L476.3 414.7 L476.8 414.8 L477.3 415.0 L478.7 410.6 L478.2 410.4 L477.6 410.3 L476.8 410.0 L476.0 409.8 L475.2 409.5 L474.3 409.3 L473.4 409.0 L472.6 408.6 L471.8 408.3 L471.1 408.0 L470.4 407.6 L469.6 407.1 L468.9 406.6 L468.1 406.1 L467.3 405.5 L466.5 404.9 L465.7 404.4 L464.9 403.8 L464.1 403.2 L463.3 402.6 L462.5 402.0 L461.6 401.5 L460.8 400.9 L459.9 400.3 L459.0 399.7 L458.2 399.2 L457.5 398.7 L456.8 398.3 L456.2 397.9 L455.8 397.6 Z" class="pf"/>
<path d="M478 408 L500 410.5 L500.5 421.6 L478.5 418.5 Q476.5 413.5 478 408 Z" class="pf"/>
<path d="M482.5 408.5 Q481 414 483 419 M487.5 409 Q486 414.5 488 419.8 M492.5 409.6 Q491 415 493 420.5 M497 410 Q495.5 415.5 497.5 421.2" class="p"/>
<path d="M501.0 421.8 L502.7 422.1 L504.8 422.5 L507.3 422.9 L510.1 423.4 L513.1 424.0 L516.3 424.5 L519.5 425.1 L522.7 425.8 L525.8 426.4 L528.7 427.1 L531.6 427.7 L534.5 428.4 L537.5 429.1 L540.4 429.9 L543.4 430.7 L546.4 431.5 L549.4 432.3 L552.4 433.1 L555.3 434.0 L558.3 434.9 L561.3 435.9 L564.3 436.9 L567.3 437.8 L570.2 438.9 L573.2 439.9 L576.2 441.0 L579.1 442.1 L582.0 443.2 L584.8 444.4 L587.6 445.7 L590.5 447.0 L593.3 448.3 L596.0 449.7 L598.8 451.1 L601.5 452.5 L604.1 454.0 L606.8 455.6 L609.5 457.2 L612.1 458.9 L614.8 460.7 L617.4 462.6 L620.1 464.6 L622.9 466.8 L625.6 469.0 L628.4 471.3 L631.1 473.7 L633.7 476.0 L636.3 478.3 L638.8 480.6 L641.1 482.7 L643.4 484.8 L645.6 487.0 L647.8 489.2 L650.0 491.4 L652.0 493.6 L654.0 495.6 L655.8 497.6 L657.4 499.3 L658.8 500.8 L659.9 501.9 L668.1 494.1 L667.1 492.9 L665.7 491.5 L664.1 489.8 L662.3 487.9 L660.3 485.7 L658.2 483.5 L656.0 481.2 L653.6 478.9 L651.2 476.5 L648.9 474.3 L646.5 472.1 L643.9 469.8 L641.3 467.5 L638.6 465.1 L635.8 462.7 L632.9 460.3 L630.0 457.9 L627.1 455.6 L624.1 453.4 L621.2 451.3 L618.4 449.4 L615.5 447.5 L612.7 445.8 L609.8 444.1 L606.9 442.5 L604.0 441.0 L601.1 439.5 L598.2 438.1 L595.3 436.7 L592.4 435.3 L589.3 434.0 L586.3 432.7 L583.2 431.5 L580.1 430.3 L577.0 429.2 L574.0 428.1 L570.9 427.0 L567.8 426.0 L564.8 425.0 L561.7 424.1 L558.7 423.1 L555.6 422.2 L552.5 421.3 L549.4 420.5 L546.3 419.6 L543.3 418.8 L540.2 418.1 L537.2 417.3 L534.2 416.6 L531.3 415.9 L528.2 415.3 L524.9 414.6 L521.6 413.9 L518.4 413.3 L515.1 412.7 L512.1 412.2 L509.3 411.7 L506.8 411.3 L504.7 410.9 L503.0 410.6 Z" class="pf"/>
<ellipse cx="502.5" cy="416.4" rx="2.4" ry="5.6" transform="rotate(-8.0 502.5 416.4)" class="pf"/>
<path d="M667.2 493.2 Q670.5 490.6 673.6 493 L684 505.6 L680.5 510.4 L675.5 513.4 L664 501.2 Q663.6 496 667.2 493.2 Z" class="pf"/>
<path d="M673.6 493 Q669.5 496.5 668.5 504.8 M680.5 510.4 L678.4 507 L676 509" class="p"/>
<path d="M679.0 509.3 L679.5 509.9 L680.2 510.6 L680.9 511.4 L681.8 512.4 L682.8 513.5 L683.8 514.6 L684.8 515.7 L685.9 516.8 L687.1 517.9 L688.2 519.0 L689.4 520.0 L690.7 521.2 L692.0 522.3 L693.5 523.5 L694.9 524.6 L696.2 525.7 L697.5 526.7 L698.6 527.6 L699.6 528.3 L700.3 528.9 L703.7 524.7 L703.0 524.1 L702.0 523.3 L700.9 522.5 L699.6 521.5 L698.2 520.4 L696.9 519.3 L695.5 518.1 L694.1 517.0 L692.9 516.0 L691.8 515.0 L690.8 514.1 L689.8 513.0 L688.7 512.0 L687.7 510.9 L686.7 509.8 L685.8 508.8 L685.0 507.8 L684.2 507.0 L683.5 506.2 L683.0 505.7 Z" class="pf"/>
<path d="M701.2 526.4 L701.4 531.5 Q708.6 536.6 716 531.5 L716 526.4 Z" class="pf"/>
<ellipse cx="708.6" cy="526.4" rx="7.4" ry="3.6" transform="rotate(0.0 708.6 526.4)" class="pf"/>
<ellipse cx="708.9" cy="526.2" rx="4.7" ry="2.0" transform="rotate(0.0 708.9 526.2)" class="p"/>
<ellipse cx="708.5" cy="510.8" rx="7.4" ry="3.4" transform="rotate(0.0 708.5 510.8)" class="pf"/>
<ellipse cx="708.5" cy="511.4" rx="7.0" ry="2.9" transform="rotate(0.0 708.5 511.4)" class="p"/>
<ellipse cx="708.5" cy="510.7" rx="4.2" ry="1.5" transform="rotate(0.0 708.5 510.7)" class="pk"/>
<ellipse cx="708.9" cy="510.7" rx="2.8" ry="0.7" transform="rotate(0.0 708.9 510.7)" class="pf"/>
<ellipse cx="708.5" cy="544.0" rx="7.4" ry="3.4" transform="rotate(0.0 708.5 544.0)" class="pf"/>
<ellipse cx="708.5" cy="544.6" rx="7.0" ry="2.9" transform="rotate(0.0 708.5 544.6)" class="p"/>
<ellipse cx="708.5" cy="543.9" rx="4.2" ry="1.5" transform="rotate(0.0 708.5 543.9)" class="pk"/>
<ellipse cx="708.9" cy="543.9" rx="2.8" ry="0.7" transform="rotate(0.0 708.9 543.9)" class="pf"/>
<path d="M702.4 474 Q702.4 471.6 705 471.6 L711.6 471.6 Q714.2 471.6 714.2 474 L714.2 482.8 L702.4 482.8 Z" class="pf"/>
<path d="M704.8 482.8 L704.8 495.5 Q708.5 497.6 712.2 495.5 L712.2 482.8" class="pf"/>
<path d="M704.8 486 L712.2 486 M704.8 488.8 L712.2 488.8 M704.8 491.6 L712.2 491.6 M704.8 494.2 L712.2 494.2 M708.4 473.5 L708.4 482 M705 477.5 L708.4 477.5" class="pt"/>
<path d="M515.6 461 L515.6 488" class="l"/>
<ellipse cx="505.6" cy="498.4" rx="10.0" ry="9.0" transform="rotate(-20.0 505.6 498.4)" class="pf"/>
<ellipse cx="507.4" cy="498.8" rx="7.6" ry="6.8" transform="rotate(-20.0 507.4 498.8)" class="p"/>
<ellipse cx="504.2" cy="498.0" rx="10.0" ry="9.0" transform="rotate(-20.0 504.2 498.0)" class="p"/>
<ellipse cx="526.4" cy="486.6" rx="8.4" ry="10.4" transform="rotate(15.0 526.4 486.6)" class="pf"/>
<ellipse cx="525.4" cy="487.6" rx="5.6" ry="8.2" transform="rotate(15.0 525.4 487.6)" class="p"/>
<path d="M513.5 491.5 L519 487.6 M515 494.5 L520.5 491 M520.5 477 Q523 474 527.5 474.6 Q532.5 476 534.8 479.8 M500.5 493.5 L512.5 502.5 M506.5 491.5 L504.5 505.5" class="p"/>
<path d="M521.5 476.6 L526 475.8 L526.5 478.5 L522.5 479.5 Z" class="pk"/>
<ellipse cx="447.4" cy="530.8" rx="5.8" ry="6.6" transform="rotate(15.0 447.4 530.8)" class="pf"/>
<ellipse cx="449.4" cy="530.2" rx="5.2" ry="6.2" transform="rotate(15.0 449.4 530.2)" class="p"/>
<path d="M443.8 525.5 L445.2 521.8 L448 521.2 L447.6 526 M449.4 525.6 L450.6 521.6 L453.4 522.6 L452.4 527" class="p"/>
<path d="M457.3 542.9 L457.6 543.0 L458.0 543.2 L458.4 543.4 L458.9 543.6 L459.5 543.8 L460.0 544.0 L460.6 544.3 L461.2 544.6 L461.9 544.8 L462.5 545.1 L463.2 545.4 L464.0 545.7 L464.8 546.1 L465.6 546.4 L466.5 546.8 L467.4 547.2 L468.1 547.5 L468.8 547.8 L469.4 548.1 L469.9 548.3 L472.9 541.3 L472.5 541.1 L471.9 540.9 L471.2 540.6 L470.4 540.2 L469.5 539.9 L468.7 539.5 L467.8 539.1 L467.0 538.7 L466.2 538.4 L465.5 538.1 L464.9 537.8 L464.2 537.6 L463.6 537.3 L463.0 537.0 L462.4 536.8 L461.9 536.6 L461.4 536.4 L460.9 536.2 L460.6 536.0 L460.3 535.9 Z" class="pf"/>
<path d="M460.2 535.9 Q455.4 535 455.2 538.6 Q455.6 542.2 457.4 542.9" class="pf"/>
<path d="M469.1 549.6 L469.9 549.9 L470.9 550.2 L472.1 550.6 L473.4 551.0 L474.8 551.4 L476.3 551.9 L477.7 552.4 L479.1 552.9 L480.5 553.5 L481.8 554.0 L483.0 554.6 L484.4 555.3 L485.8 555.9 L487.1 556.6 L488.5 557.3 L489.8 558.1 L491.1 558.9 L492.4 559.6 L493.6 560.4 L494.8 561.2 L495.9 562.1 L497.1 563.1 L498.3 564.1 L499.5 565.2 L500.7 566.4 L501.9 567.5 L502.9 568.6 L503.9 569.6 L504.7 570.5 L505.4 571.1 L505.7 571.5 L505.8 571.7 L505.8 571.6 L505.6 571.3 L505.5 570.8 L505.5 570.4 L505.5 570.2 L505.5 570.6 L505.5 571.6 L505.6 572.5 L516.4 569.9 L516.4 570.4 L516.5 571.1 L516.5 570.9 L516.5 570.3 L516.4 569.2 L516.2 568.1 L515.7 566.9 L515.1 565.8 L514.4 564.8 L513.6 563.9 L512.8 563.0 L511.9 562.0 L510.8 560.9 L509.6 559.7 L508.3 558.4 L507.0 557.2 L505.6 555.9 L504.2 554.7 L502.7 553.5 L501.2 552.4 L499.8 551.3 L498.3 550.4 L496.8 549.4 L495.3 548.5 L493.7 547.7 L492.2 546.9 L490.7 546.1 L489.2 545.4 L487.7 544.7 L486.2 544.0 L484.7 543.3 L483.1 542.7 L481.4 542.1 L479.8 541.5 L478.2 541.0 L476.7 540.5 L475.4 540.1 L474.2 539.7 L473.3 539.4 L472.5 539.2 Z" class="pf"/>
<ellipse cx="508.6" cy="573.4" rx="3.2" ry="1.9" transform="rotate(-20.0 508.6 573.4)" class="pf"/>
<path d="M509 584 Q509 581.8 511 581.8 L520.8 581.8 Q522.8 581.8 522.8 584 L522.8 622 L509 622 Z" class="pf"/>
<path d="M511.4 622 L511.4 634 Q516 636.6 520.8 634 L520.8 622" class="pf"/>
<path d="M515.5 580 L519.6 579.6" class="pt"/>
<path d="M704.5 634 L704.5 641.5 Q710.5 644.5 716.6 641.5 L716.6 634 Z" class="pf"/>
<path d="M683.6 620 Q682.6 629 690 633.5 Q708 640.5 728 633.5 Q736.6 629 735.2 620 L733 612 L686 612 Z" class="pf"/>
<path d="M684.4 624.5 Q708 636 734.6 624.5" class="p"/>
<path d="M686 596 L686 614 Q708 624 733 614 L733 596 Z" class="pf"/>
<path d="M686 606.5 Q708 616.5 733 606.5" class="p"/>
<path d="M688.4 598 L688.8 587 Q691 576.5 701 573.6 L716.5 573.6 Q726.5 576.5 728.4 587 L728.7 598 Q708 608 688.4 598 Z" class="pf"/>
<path d="M690.5 586.5 Q708 593.5 727 586.5" class="pt"/>
<path d="M686 592.6 L681.4 593.8 L681.4 604.6 L686 606 M683.5 598.6 L683.5 603.5" class="p"/>
<path d="M701.8 573.6 L702 566 L715.6 566 L716 573.6 Z" class="pf"/>
<ellipse cx="708.8" cy="573.8" rx="7.0" ry="2.2" transform="rotate(0.0 708.8 573.8)" class="p"/>
<path d="M693 560.5 Q692 557.5 695.5 556.8 L698.5 561.5 L701 560.5 L698.4 554.6 L703.4 553.5 L706.5 558 Q713.5 556.5 717.5 560.5 Q720.5 565 717 569 Q711 573 703.5 570.5 Q697.5 568 696.5 563.5 Z" class="pf"/>
<ellipse cx="708.6" cy="564.6" rx="6.6" ry="3.6" transform="rotate(0.0 708.6 564.6)" class="pf"/>
<ellipse cx="708.8" cy="565.2" rx="4.8" ry="2.3" transform="rotate(0.0 708.8 565.2)" class="p"/>
<path d="M729 597.5 Q733 590.5 741 588.2 L757.5 583.6 Q765 582.6 766.2 589.5 Q766.6 596.5 760.5 598.8 L744 604.5 Q738 606.5 735.5 611.5 L733 608 Z" class="pf"/>
<ellipse cx="760.8" cy="591.2" rx="2.6" ry="4.0" transform="rotate(15.0 760.8 591.2)" class="p"/>
<path d="M741 588.2 Q737.6 594 739.6 605.6" class="p"/>
<path d="M706.5 603 L704.6 626.5 M712.5 603.5 L711.5 615 Q713 619 718.5 617.5 L733 611.5" class="p"/>
<path d="M700.5 621 Q701 617 705 616.6 L712.5 617.8 Q715.6 619.6 714.6 623.5 L712 629.6 Q707.5 632.5 703 630.5 Q699.5 627 700.5 621 Z" class="pf"/>
<ellipse cx="707.5" cy="626.2" rx="2.8" ry="2.8" transform="rotate(0.0 707.5 626.2)" class="p"/>
<ellipse cx="707.5" cy="626.2" rx="1.2" ry="1.2" transform="rotate(0.0 707.5 626.2)" class="pk"/>
<path d="M707 596.5 L707 600.5 M706 600.5 L708.4 600.5" class="p"/>
<!-- p_04.svg -->
<path d="M607 201 L618.5 188.5 M609.5 201.8 L620 190.5" class="p"/>
<path d="M605.8 200 L609.5 202.8 L608 204.5 L604.8 202 Z" class="pk"/>
<path d="M658.8 142 L683.5 135.2 L690.5 140.2 L697 143 L699 154.5 L702.7 161 L724.8 158.2 Q730.5 161 730.4 168.5 L732.2 192.5 L711 184 L700 185 L689 170 L664 161 L655 152 Z" class="pf"/>
<path d="M663.3 148.4 L690.5 140.2 M661 144.5 L664.5 150.5" class="p"/>
<path d="M691.5 149 L713.7 145.2 L726.6 149 L725.6 152 L713.7 148.3 L693.5 152" class="pf"/>
<path d="M677.5 151.5 Q677 149 680 149.2 L696 151.2 Q699.4 152.4 699 155.5 L697.2 167.5 Q692 171.4 687 169.3 L685.4 157.5 L677.8 155.8 Z" class="pf"/>
<path d="M685.4 157.5 L698.6 157.2 M680 149.2 L686.5 154" class="p"/>
<path d="M617 128 Q621 123.8 628.5 123.2 Q638 122.4 645.5 126.2 Q653 130.5 655.6 135 L658.8 142.5 L655 152 L652 146 Q650 141 647.4 138 Q643 133.6 638.4 133 L628.4 134.2 Q622.5 134.5 620 133.5 L623.5 139 L624.4 145 L619.2 148.4 L617.4 153.8 L618.2 159.6 L625 164.2 L635 157 L638.5 149.5 L637.4 135.8" class="pf"/>
<path d="M637.4 135.8 Q640.5 143 640 153 M644.5 137.5 Q648.5 142.5 649.5 150.5 M617 128 L619.5 133.4" class="p"/>
<path d="M619.2 148.4 L624.5 151.8 L635.5 154.4 L647.5 150 L657.8 161.8 Q668 163.5 678 177.5 Q686.5 185 689.8 192.2 L690.5 205 L688 222 L685.4 237 L680.6 243.4 L666 243.4 L664 239.7 L647.5 236 L645.7 225 L640.2 210.6 L631 203.3 L617.2 192.2 L619 184 L626.4 183 L624.6 165.6 L618.2 159.6 L617.4 153.8 Z" class="pf"/>
<path d="M635 154.2 L641 151.2 L647.6 154.5 L650.4 162.5 L643 166.5 L638.6 161 Z" class="pf"/>
<path d="M641 151.2 L644.8 158.4 L650.4 162.5 M644.8 158.4 L638.6 161" class="p"/>
<ellipse cx="659.3" cy="153.8" rx="3.0" ry="3.3" transform="rotate(0.0 659.3 153.8)" class="pf"/>
<ellipse cx="659.8" cy="154.2" rx="1.6" ry="1.8" transform="rotate(0.0 659.8 154.2)" class="p"/>
<path d="M645.7 170.5 Q652 161 664 162 Q679 168 686 186 Q690 204 685.5 224 L680 238" class="p"/>
<ellipse cx="659.8" cy="196.0" rx="17.4" ry="27.6" transform="rotate(-9.0 659.8 196.0)" class="pf"/>
<path d="M646.4 214 Q650 226 660.5 230.5 M643.8 205 L644.6 224.5" class="p"/>
<ellipse cx="633.7" cy="169.3" rx="1.3" ry="2.4" transform="rotate(-15.0 633.7 169.3)" class="pk"/>
<ellipse cx="630.0" cy="180.3" rx="1.3" ry="2.4" transform="rotate(-15.0 630.0 180.3)" class="pk"/>
<ellipse cx="634.7" cy="198.7" rx="1.3" ry="2.4" transform="rotate(-15.0 634.7 198.7)" class="pk"/>
<ellipse cx="684.3" cy="194.0" rx="1.3" ry="2.4" transform="rotate(-15.0 684.3 194.0)" class="pk"/>
<ellipse cx="685.2" cy="215.2" rx="1.3" ry="2.4" transform="rotate(-15.0 685.2 215.2)" class="pk"/>
<ellipse cx="684.3" cy="229.0" rx="1.3" ry="2.4" transform="rotate(-15.0 684.3 229.0)" class="pk"/>
<path d="M651.5 226 L652.5 238 M658 231 L658.6 240.5 M667 232 L667.5 243 M672 229 L676 234 L675.6 243 M645.7 225 L651.5 226" class="p"/>
<path d="M689.8 192.2 L694 186.2 L700 184.9 L711.9 184 L734 195 Q741 199 742.2 205.2 L741.6 222 L738.6 238.2 L732 242 L713.7 232.7 L704 229.5 L690 236.5 L685.4 237" class="pf"/>
<path d="M700 184.9 Q695 193 695.6 206 Q696 220 704 229.5 M711.9 184 Q707.5 191 709.6 206 Q710 222 713.7 232.7 M690.5 205 L695.6 206" class="p"/>
<ellipse cx="724.6" cy="215.4" rx="9.2" ry="12.2" transform="rotate(14.0 724.6 215.4)" class="pf"/>
<ellipse cx="724.9" cy="215.6" rx="6.2" ry="8.4" transform="rotate(14.0 724.9 215.6)" class="p"/>
<ellipse cx="725.2" cy="215.8" rx="3.3" ry="4.4" transform="rotate(14.0 725.2 215.8)" class="p"/>
<ellipse cx="725.4" cy="216.0" rx="1.2" ry="1.6" transform="rotate(14.0 725.4 216.0)" class="p"/>
<path d="M716 219 Q719.5 227 727.5 227.6 M716.6 211.5 L721.4 213.4" class="p"/>
<ellipse cx="716.0" cy="195.0" rx="1.2" ry="1.8" transform="rotate(-10.0 716.0 195.0)" class="pk"/>
<ellipse cx="734.9" cy="234.5" rx="1.2" ry="1.8" transform="rotate(-10.0 734.9 234.5)" class="pk"/>
<path d="M685.2 245.4 L717.4 237 L732 242 M690 236.5 L692 243.6" class="p"/>
<path d="M645.8 247 Q646 244.6 650 244 L656 244.2 L664 247.6 L672 250.4 L695.5 244.2 L706.5 246.5 Q708.4 249 706.4 252.6 L680.6 261 L666 258.2 L655.5 252.5 Z" class="pf"/>
<path d="M669.6 251.8 L693.5 246 Q696 248 695.2 250.8 L677 259 Q672.5 258.6 669.6 251.8 Z" class="p"/>
<ellipse cx="651.5" cy="247.4" rx="1.8" ry="1.0" transform="rotate(0.0 651.5 247.4)" class="p"/>
<ellipse cx="701.5" cy="248.6" rx="1.8" ry="1.0" transform="rotate(0.0 701.5 248.6)" class="p"/>
<ellipse cx="670.4" cy="258.4" rx="1.6" ry="0.9" transform="rotate(0.0 670.4 258.4)" class="p"/>
<ellipse cx="680.5" cy="254.5" rx="1.5" ry="0.9" transform="rotate(0.0 680.5 254.5)" class="pk"/>
<path d="M642 260 L645 256.4 L652.5 255.6 L664.5 262.6 L680 266.5 L699 261.4 L708.5 264.6 L710.4 270.5 L709.6 282.5 L703.5 286 L703.2 294.5 L690 297.5 L679.5 294.6 L668 303.6 L661 302.5 L650.5 297 L641.5 287.5 L640 281 L641.4 274 Z" class="pf"/>
<path d="M645 256.4 L646.5 264.5 L646 274.5 L655.5 276.5 L664 274 L666 280 M652.5 255.6 L651.5 260.5 L657 262 M646.5 264.5 L656 265.5 L664.5 262.6 M666 280 L679.5 282 L703.5 274 L709.6 270.5 M679.5 282 L679.5 294.6 M668 268.5 L690 263.6 L697 266.5 L675 273.4 Z" class="p"/>
<path d="M666 280 L666.5 287.5 L675 289.6 L675.4 281.5 M640 281 L652 283.5 L660.5 281.4 M641.5 287.5 L656 297 L664 300.5" class="p"/>
<ellipse cx="693.6" cy="284.5" rx="4.4" ry="4.8" transform="rotate(0.0 693.6 284.5)" class="pf"/>
<ellipse cx="685.0" cy="286.5" rx="1.8" ry="2.4" transform="rotate(0.0 685.0 286.5)" class="p"/>
<ellipse cx="701.0" cy="281.0" rx="1.2" ry="2.6" transform="rotate(0.0 701.0 281.0)" class="p"/>
<path d="M652.5 260.5 L654.5 258.4 M651 263.5 L654 262" class="pt"/>
<path d="M687.0 297.4 L687.3 297.9 L687.6 298.7 L687.9 299.7 L688.4 300.8 L688.9 302.1 L689.5 303.5 L690.2 304.9 L691.0 306.3 L691.9 307.7 L693.0 309.1 L694.2 310.5 L695.6 311.8 L697.1 313.1 L698.7 314.5 L700.3 315.8 L701.8 317.0 L703.3 318.1 L704.6 319.1 L705.6 319.9 L706.4 320.6 L710.6 315.4 L709.7 314.8 L708.6 313.9 L707.3 312.9 L705.9 311.8 L704.4 310.6 L702.9 309.4 L701.4 308.1 L700.1 307.0 L698.9 305.8 L698.0 304.9 L697.3 304.0 L696.7 302.9 L696.0 301.8 L695.5 300.7 L695.0 299.5 L694.5 298.4 L694.1 297.3 L693.7 296.3 L693.3 295.4 L693.0 294.6 Z" class="pf"/>
<ellipse cx="709.2" cy="319.0" rx="2.8" ry="3.2" transform="rotate(0.0 709.2 319.0)" class="pf"/>
<ellipse cx="709.5" cy="319.3" rx="1.4" ry="1.6" transform="rotate(0.0 709.5 319.3)" class="p"/>
<path d="M672.3 301.9 L672.7 302.8 L673.3 303.9 L673.9 305.4 L674.7 307.0 L675.6 308.8 L676.6 310.7 L677.7 312.7 L678.9 314.7 L680.3 316.7 L681.8 318.7 L683.5 320.6 L685.4 322.6 L687.5 324.7 L689.7 326.8 L692.0 328.9 L694.2 330.8 L696.2 332.6 L698.0 334.2 L699.5 335.6 L700.7 336.6 L706.3 330.4 L705.2 329.3 L703.6 328.0 L701.8 326.3 L699.8 324.6 L697.6 322.6 L695.5 320.7 L693.3 318.7 L691.4 316.7 L689.6 314.9 L688.2 313.3 L687.1 311.8 L686.0 310.2 L684.9 308.5 L684.0 306.7 L683.1 305.0 L682.3 303.4 L681.5 301.8 L680.9 300.4 L680.3 299.1 L679.7 298.1 Z" class="pf"/>
<ellipse cx="705.4" cy="335.4" rx="3.6" ry="4.2" transform="rotate(0.0 705.4 335.4)" class="pf"/>
<ellipse cx="705.8" cy="335.8" rx="1.8" ry="2.2" transform="rotate(0.0 705.8 335.8)" class="p"/>
<path d="M686.4 319.5 Q689.5 316 693.2 314.6" class="p"/>
<path d="M641.5 287.5 Q640.6 292.5 645 297 L662.5 307.6 L667 301.6" class="p"/>
<ellipse cx="666.5" cy="304.5" rx="3.4" ry="3.6" transform="rotate(0.0 666.5 304.5)" class="pf"/>
<ellipse cx="666.5" cy="304.5" rx="1.5" ry="1.6" transform="rotate(0.0 666.5 304.5)" class="pk"/>
<path d="M648 300 L648.4 303.6 L655.5 303.8" class="pt"/>
<path d="M632.6 293.6 L632.6 309 L636.8 309 L636.8 293.6 Z" class="pf"/>
<path d="M632.6 296 L636.8 296 M632.6 298.5 L636.8 298.5 M632.6 301 L636.8 301 M632.6 303.5 L636.8 303.5 M632.6 306 L636.8 306 M634.7 293.6 L634.7 309" class="pt"/>
<path d="M629.4 310.5 Q629.2 308.6 631.5 308.6 L638 308.6 Q640.2 308.8 640 310.5 L639.5 315.6 Q634.6 318.4 630 315.6 Z" class="pf"/>
<path d="M630 312.6 Q634.8 314.8 639.8 312.6" class="pt"/>
<g transform="translate(780.6 189.2) rotate(24)">
<path d="M0 -2.2 L17 -2.2 L17 2.2 L0 2.2 Q-1.5 0 0 -2.2 Z" class="pf"/>
<path d="M2.5 -2.2 L3.5 2.2 M5.5 -2.2 L6.5 2.2 M8.5 -2.2 L9.5 2.2 M11.5 -2.2 L12.5 2.2 M14.5 -2.2 L15.5 2.2" class="p"/>
<path d="M16 -5 L17.5 -6 L19 -5.2 L19 5.2 L17.5 6 L16 5 Z" class="pf"/>
<ellipse cx="21.8" cy="0" rx="4.2" ry="5.6" class="pf"/>
<ellipse cx="22.4" cy="0" rx="2.1" ry="2.9" class="p"/>
</g>
<path d="M765.4 229.2 L775.5 223.5 Q777.5 222.8 779.4 224 L802.7 241 L809.5 245.5 Q815 252 815.2 257.5 Q815.4 264 812 269 Q808 275.4 799.3 280.2 Q794 283.4 790.2 284 Q786 284.4 782.3 281.7 L780.5 270 L771.5 264.5 L764.8 257 Z" class="pf"/>
<path d="M775.5 251.4 Q777 246 781.2 243.3 Q786 239.4 790.2 238.2 L795.9 238.8 Q804 241 809.5 245.5" class="p"/>
<path d="M791.4 256.9 Q792 251.6 795.9 248.9 Q800 245.4 803.8 245.5 Q809.6 246.2 811.7 250.1 Q814.4 255 812.9 260.2 Q811 266 807.2 270.4 Q803.6 274 799.3 276.1 Q794.6 278.4 790.2 278.3 L784.6 276" class="p"/>
<path d="M775.5 252.3 L788 258.6 L791.4 256.9 M788 258.6 L778.9 264.8 M778.9 264.8 L781.2 282.9 M782.6 264.2 L784.6 281" class="p"/>
<path d="M790 279.4 Q793 282.4 797.6 280.4" class="pt"/>
<path d="M772.4 236.4 Q771.6 234 773.8 232.8 L779.6 230.4 Q781.8 230 782 232 L781.4 233.2 L775 236.8 Q773.2 237.6 772.4 236.4 Z" class="pk"/>
<path d="M751.8 268.7 L765.4 259.7 L771 264.8 L778.9 264.8 L780.4 279.6 L762 287.6 L755.7 284.6 Z" class="pf"/>
<path d="M751.8 268.7 L758.4 272.6 L771 264.8 M758.4 272.6 L762 287.6 M754.8 271.6 L758.4 285.4" class="p"/>
<path d="M850 97.2 Q850.6 95.2 853 95.2 L866 94.4 Q868.4 94.8 869 97 L873 106 L879 109.4 L893 114.6 Q898.6 117.6 899.2 122 L901.2 178.5 Q901 182 897.5 183.5 L887 185.4 Q884.6 185.4 882 183.6 L862 170.8 L856.5 165.6 L850.8 161.2 Q848.8 158.6 849 155 L848.6 101.5 Z" class="pf"/>
<path d="M861.8 120.6 Q866 112.4 873.5 113.4 Q886 119 890.5 139 Q892.6 155 886.5 162.5 L882 163.8 L880.6 170.5 L878.6 172.6 L872 167.6 L870.5 161.6 Q863 155 861 141 Q860 129 861.8 120.6 Z" class="p"/>
<ellipse cx="855.0" cy="101.4" rx="1.5" ry="2.6" transform="rotate(-18.0 855.0 101.4)" class="p"/>
<ellipse cx="857.6" cy="118.4" rx="1.5" ry="2.6" transform="rotate(-18.0 857.6 118.4)" class="p"/>
<ellipse cx="892.6" cy="121.4" rx="1.5" ry="2.6" transform="rotate(-18.0 892.6 121.4)" class="p"/>
<ellipse cx="855.5" cy="157.6" rx="1.5" ry="2.6" transform="rotate(-18.0 855.5 157.6)" class="p"/>
<ellipse cx="891.0" cy="162.0" rx="1.5" ry="2.6" transform="rotate(-18.0 891.0 162.0)" class="p"/>
<ellipse cx="893.8" cy="175.6" rx="1.5" ry="2.6" transform="rotate(-18.0 893.8 175.6)" class="p"/>
<path d="M785 391.6 Q779 390.4 776.6 395.4 Q775.4 400.6 777.4 402.6 L786 398 Z" class="pf"/>
<path d="M777.3 402.4 L777.8 402.7 L778.3 403.1 L778.8 403.4 L779.2 403.6 L779.6 403.9 L779.9 404.1 L780.3 404.3 L780.6 404.6 L780.9 404.8 L781.2 405.1 L781.5 405.4 L781.9 405.7 L782.2 406.1 L782.5 406.5 L782.9 407.0 L783.3 407.7 L783.7 408.5 L784.2 409.4 L784.8 410.5 L785.4 411.6 L786.0 412.9 L786.6 414.2 L787.3 415.5 L788.1 416.8 L788.9 418.2 L789.7 419.6 L790.7 420.9 L791.7 422.2 L792.5 423.3 L793.4 424.4 L794.3 425.4 L795.2 426.5 L796.2 427.5 L797.2 428.6 L798.2 429.7 L799.3 430.8 L800.5 431.8 L801.8 432.9 L803.1 433.9 L804.5 434.9 L806.0 435.9 L807.5 436.8 L809.0 437.7 L810.6 438.6 L812.4 439.6 L814.2 440.6 L816.0 441.5 L818.0 442.5 L820.0 443.4 L822.1 444.3 L824.2 445.1 L826.4 445.9 L828.6 446.5 L830.8 447.1 L833.1 447.5 L835.4 447.8 L837.7 447.9 L840.0 447.9 L842.3 447.7 L844.6 447.5 L846.8 447.2 L849.1 446.7 L851.3 446.2 L853.5 445.7 L855.6 445.0 L857.7 444.3 L859.7 443.6 L861.7 442.7 L863.5 441.9 L865.3 440.9 L867.1 439.9 L868.7 438.7 L870.3 437.5 L871.8 436.2 L873.1 434.9 L874.4 433.5 L875.6 432.1 L876.6 430.6 L877.7 429.2 L878.6 427.8 L879.5 426.4 L880.4 425.0 L881.1 423.7 L882.0 422.2 L882.9 420.5 L883.6 418.6 L884.2 416.7 L884.6 415.0 L884.9 413.3 L885.2 411.7 L885.5 410.2 L885.7 408.8 L886.0 407.6 L886.2 406.6 L886.5 405.7 L886.7 405.1 L887.0 404.7 L887.2 404.4 L887.5 404.1 L888.0 403.7 L888.8 403.2 L889.8 402.6 L891.0 402.0 L892.2 401.5 L893.6 401.0 L894.9 400.4 L896.3 400.0 L897.6 399.5 L898.9 399.1 L900.1 398.7 L901.3 398.2 L902.2 397.9 L896.8 385.3 L896.3 385.6 L895.5 385.9 L894.5 386.2 L893.3 386.6 L891.8 387.1 L890.3 387.7 L888.7 388.3 L887.0 388.9 L885.3 389.7 L883.5 390.6 L881.8 391.5 L880.1 392.7 L878.4 394.0 L876.8 395.6 L875.5 397.4 L874.5 399.3 L873.7 401.1 L873.1 402.9 L872.7 404.6 L872.4 406.3 L872.1 407.9 L871.8 409.3 L871.6 410.7 L871.3 412.0 L871.0 413.1 L870.8 414.1 L870.4 415.0 L870.0 415.8 L869.4 416.8 L868.7 418.0 L868.0 419.2 L867.2 420.4 L866.5 421.5 L865.7 422.5 L864.9 423.6 L864.1 424.5 L863.3 425.4 L862.4 426.3 L861.6 427.1 L860.7 427.8 L859.7 428.5 L858.7 429.1 L857.5 429.7 L856.2 430.3 L854.7 430.9 L853.1 431.5 L851.5 432.1 L849.8 432.6 L848.1 433.0 L846.3 433.4 L844.6 433.7 L842.8 434.0 L841.2 434.2 L839.5 434.3 L838.0 434.3 L836.6 434.2 L835.2 434.1 L833.7 433.8 L832.2 433.4 L830.6 432.9 L828.9 432.3 L827.2 431.7 L825.5 431.0 L823.8 430.2 L822.1 429.4 L820.5 428.5 L818.9 427.7 L817.3 426.8 L815.8 426.0 L814.5 425.2 L813.3 424.4 L812.3 423.7 L811.3 423.0 L810.3 422.3 L809.4 421.5 L808.6 420.8 L807.8 420.0 L807.0 419.2 L806.2 418.4 L805.4 417.5 L804.7 416.6 L803.9 415.7 L803.1 414.7 L802.3 413.8 L801.7 413.0 L801.1 412.1 L800.5 411.1 L799.9 410.1 L799.3 409.0 L798.7 407.9 L798.1 406.7 L797.5 405.5 L796.9 404.3 L796.3 403.1 L795.6 401.9 L795.0 400.8 L794.3 399.6 L793.5 398.5 L792.7 397.5 L791.9 396.6 L791.1 395.7 L790.3 395.0 L789.6 394.3 L788.8 393.7 L788.1 393.2 L787.5 392.8 L786.9 392.4 L786.4 392.1 L786.0 391.9 L785.8 391.7 L785.7 391.7 L785.7 391.6 Z" class="pf"/>
<path d="M897.2 385.6 Q901.6 390 902.4 397.6" class="p"/>
<path d="M908.8 384.2 L949.6 368.6 M916.2 395.6 L954.8 381.2" class="p"/>
<ellipse cx="912.6" cy="389.8" rx="3.6" ry="6.4" transform="rotate(-18.0 912.6 389.8)" class="pf"/>
<ellipse cx="913.6" cy="389.6" rx="2.2" ry="4.6" transform="rotate(-18.0 913.6 389.6)" class="p"/>
<ellipse cx="904.6" cy="328.4" rx="4.8" ry="5.8" transform="rotate(25.0 904.6 328.4)" class="pf"/>
<ellipse cx="908.0" cy="327.4" rx="4.6" ry="5.6" transform="rotate(25.0 908.0 327.4)" class="p"/>
<path d="M902 323.5 L904 319.6 L907.5 319.2 L907 323.6 M908.5 322.8 L910.2 319.6 L912.8 320.8 L912 325" class="p"/>
<path d="M922.8 349.8 L916.2 344.5 Q912.6 340.6 916 337.6 Q919.5 335.6 923.5 338.6 L928.4 342.6" class="p"/>
<ellipse cx="697.0" cy="414.4" rx="4.8" ry="5.6" transform="rotate(25.0 697.0 414.4)" class="pf"/>
<ellipse cx="700.2" cy="413.4" rx="4.6" ry="5.4" transform="rotate(25.0 700.2 413.4)" class="p"/>
<path d="M694.6 409.6 L696.4 405.8 L699.8 405.4 L699.4 409.8 M700.8 409 L702.6 405.8 L705.2 407 L704.4 411" class="p"/>
<path d="M725.2 422 L716 417.4 Q711.6 416.6 709.6 420 Q708.6 423.6 711.6 425.6 L716.2 428.8" class="p"/>
<path d="M594.40 91.00 L594.40 164.60 L657.50 150.80" class="l" stroke-dasharray="4.5 3"/>
<path d="M168.00 230.80 L141.00 262.00 L225.00 308.00 L140.00 405.50" class="l" stroke-dasharray="5.5 3.5"/>
<path d="M237.50 333.00 L158.00 428.00" class="l" stroke-dasharray="5.5 3.5"/>
<path d="M670.60 308.00 L670.60 397.00 L691.00 408.20" class="l" stroke-dasharray="4.5 3"/>
<path d="M713.70 322.50 L807.00 395.40 L889.80 315.30 L898.70 321.60" class="l" stroke-dasharray="4.5 3"/>
<path d="M708.50 339.50 L775.30 391.50" class="l" stroke-dasharray="4.5 3"/>
</svg>
</body></html>
